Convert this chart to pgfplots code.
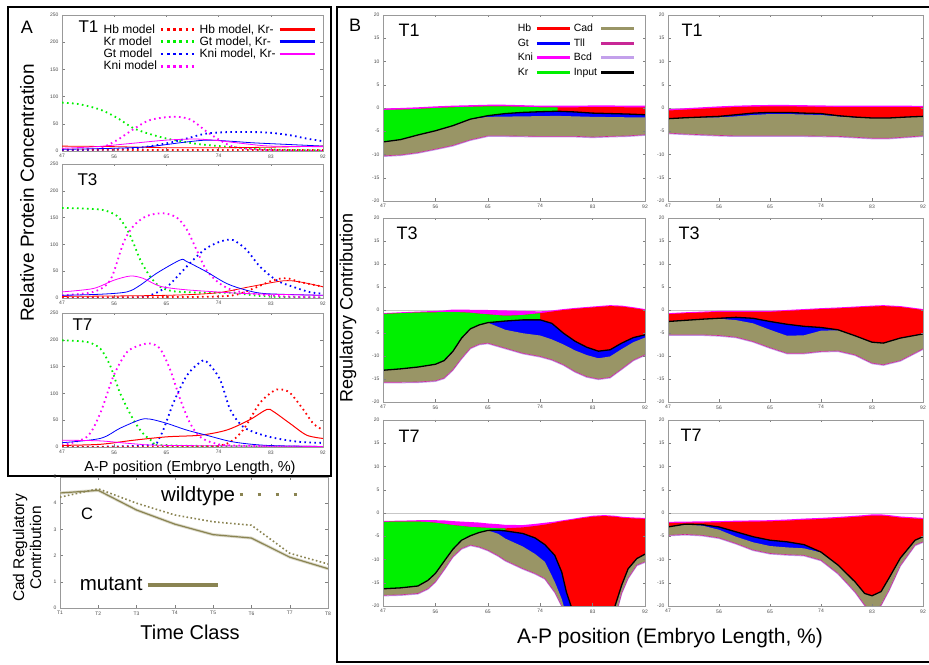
\documentclass[border=0pt]{standalone}
\usepackage{pgfplots}
\pgfplotsset{compat=1.18}
\usepackage{pgfplotstable}
\usepackage{fontspec}
\setmainfont{Liberation Sans}

\definecolor{cadc}{RGB}{153,149,102}
\definecolor{tllc}{RGB}{200,40,150}
\definecolor{bcdc}{RGB}{195,160,235}
\definecolor{grn}{RGB}{0,240,0}
\definecolor{olv}{RGB}{138,132,82}
\definecolor{mag}{RGB}{255,0,255}

\pgfplotsset{
  base/.style={scale only axis, anchor=south west, axis line style={black!40, line width=0.5pt},
    tick style={black!50, line width=0.4pt}, major tick length=2.5pt, tick align=inside,
    /pgf/number format/assume math mode=true,
    tick label style={font=\fontsize{5}{6}\selectfont, text=black!70}, clip=true},
  pA/.style={base, width=261pt, xmin=47, xmax=92, ymin=0, ymax=250,
    xtick={47,56,65,74,83,92}, ytick={0,50,...,250}},
  pB/.style={base, axis on top, width=262pt, xmin=47, xmax=92, ymin=-20, ymax=20,
    xtick={47,56,65,74,83,92}, ytick={-20,-15,...,20}},
  dotl/.style={line width=1.8pt, dash pattern=on 1.6pt off 3.4pt, smooth},
  soll/.style={line width=0.8pt, smooth},
  legd/.style={line width=2.6pt, dash pattern=on 2.6pt off 3.6pt},
  legs/.style={line width=2.8pt},
  legA/.style={legend image code/.code={\draw[##1] (0pt,0pt) -- (35pt,0pt);}},
  legB/.style={legend image code/.code={\draw[##1] (0pt,0pt) -- (33pt,0pt);}},
  legCw/.style={legend image code/.code={\draw[##1] (0pt,0pt) -- (57pt,0pt);}},
  legCm/.style={legend image code/.code={\draw[##1] (0pt,0pt) -- (70pt,0pt);}},
}

% ---------------- Panel B data ----------------
\pgfplotstableread{
x top kb blk bb ob
47 -0.10 -0.45 -7.30 -7.30 -10.30
50 0.00 -0.35 -6.80 -6.80 -10.10
53 0.15 -0.20 -5.80 -5.80 -9.60
56 0.35 0.00 -4.90 -4.90 -8.85
59 0.50 0.15 -3.80 -3.80 -8.05
62 0.60 0.25 -2.40 -2.40 -6.85
65 0.70 0.35 -1.65 -1.90 -6.00
68 0.70 0.35 -1.20 -1.85 -6.00
71 0.60 0.25 -0.95 -1.80 -6.05
74 0.50 0.15 -0.80 -1.75 -6.10
77 0.50 0.15 -0.70 -1.70 -6.10
80 0.50 0.15 -0.85 -1.80 -6.10
83 0.55 0.20 -1.10 -1.90 -6.25
86 0.55 0.20 -1.20 -1.95 -6.10
89 0.50 0.15 -1.30 -2.00 -6.00
92 0.50 0.15 -1.45 -2.00 -5.75
}\BLa
\pgfplotstableread{
x top kb blk bb ob
47 -0.25 -0.55 -2.30 -2.30 -5.40
50 -0.05 -0.35 -2.10 -2.10 -5.60
53 0.15 -0.15 -1.95 -2.00 -5.75
56 0.35 0.05 -1.80 -2.00 -5.90
59 0.50 0.20 -1.45 -1.80 -6.00
62 0.60 0.30 -1.10 -1.50 -6.00
65 0.65 0.35 -0.95 -1.30 -6.00
68 0.65 0.35 -0.95 -1.30 -6.00
71 0.60 0.30 -1.10 -1.40 -6.00
74 0.55 0.25 -1.20 -1.50 -6.05
77 0.50 0.20 -1.65 -1.80 -6.10
80 0.50 0.20 -1.95 -2.05 -6.30
83 0.50 0.20 -2.15 -2.20 -6.50
86 0.50 0.20 -2.15 -2.20 -6.50
89 0.50 0.20 -1.95 -2.00 -6.25
92 0.45 0.15 -1.80 -1.85 -6.00
}\BRa
\pgfplotstableread{
x top kb blk bb ob
47 -0.70 -0.85 -13.10 -13.10 -15.70
50 -0.50 -0.70 -12.80 -12.80 -15.70
53 -0.35 -0.55 -12.40 -12.40 -15.65
56 -0.20 -0.50 -11.80 -11.80 -15.40
57.5 -0.10 -0.45 -11.00 -11.00 -14.80
59 0.10 -0.45 -9.00 -9.00 -13.00
60.5 0.10 -0.50 -6.10 -6.10 -10.50
62 0.05 -0.60 -4.10 -4.10 -8.30
63.5 0.00 -0.80 -3.25 -3.25 -7.45
65 0.00 -0.95 -2.75 -2.75 -7.20
68 -0.10 -1.25 -2.40 -4.30 -8.30
71 -0.20 -1.10 -2.15 -5.05 -9.40
74 -0.30 -0.70 -2.15 -5.55 -10.10
76 -0.10 -0.35 -2.90 -6.40 -10.80
78 0.20 0.00 -5.05 -7.50 -11.90
80 0.45 0.25 -6.80 -8.80 -13.40
82 0.65 0.45 -8.10 -9.80 -14.50
84 0.85 0.65 -8.95 -10.50 -15.00
86 1.05 0.85 -8.65 -10.10 -14.65
88 0.95 0.75 -7.20 -8.50 -12.80
90 0.60 0.40 -6.00 -7.00 -10.90
92 0.20 0.00 -5.40 -6.00 -9.75
}\BLb
\pgfplotstableread{
x top kb blk bb ob
47 -0.70 -0.90 -2.50 -2.50 -5.40
50 -0.50 -0.70 -2.25 -2.25 -5.40
53 -0.35 -0.55 -2.00 -2.00 -5.40
56 -0.20 -0.40 -1.80 -1.90 -5.55
59 -0.20 -0.40 -1.60 -2.20 -5.90
62 -0.20 -0.40 -1.80 -2.90 -6.85
65 -0.20 -0.40 -2.50 -4.30 -8.20
68 0.00 -0.20 -3.10 -5.60 -9.40
71 0.20 0.00 -3.55 -5.50 -9.40
74 0.40 0.20 -3.80 -4.50 -9.00
77 0.55 0.35 -4.30 -4.40 -8.90
80 0.75 0.55 -5.60 -5.60 -9.75
83 0.95 0.75 -7.00 -7.00 -11.55
85 1.05 0.85 -7.20 -7.20 -11.90
88 0.85 0.65 -6.10 -6.10 -11.00
92 0.20 0.00 -5.20 -5.20 -8.45
}\BRb
\pgfplotstableread{
x top kb blk bb ob
47 -1.70 -1.90 -16.30 -16.30 -17.70
50 -1.65 -1.85 -16.10 -16.10 -17.60
53 -1.55 -1.85 -15.70 -15.70 -17.30
54.7 -1.55 -1.95 -14.50 -14.50 -16.30
56 -1.55 -2.10 -13.00 -13.00 -14.80
57.6 -1.60 -2.35 -10.20 -10.20 -12.00
59 -1.75 -2.60 -7.80 -7.80 -9.40
60.5 -1.85 -2.80 -5.85 -5.85 -7.65
62 -1.95 -3.00 -4.90 -4.90 -6.90
63.5 -2.05 -3.10 -4.20 -4.20 -7.30
65 -2.25 -3.20 -3.75 -3.75 -8.00
66.8 -2.40 -3.30 -3.70 -4.50 -9.20
68 -2.55 -3.30 -3.85 -5.50 -10.20
71 -2.60 -3.10 -4.40 -7.20 -11.95
73.1 -2.35 -2.80 -5.35 -8.80 -13.00
74.8 -2.10 -2.50 -6.80 -10.50 -14.10
76.5 -1.85 -2.10 -9.10 -14.80 -17.00
77.7 -1.60 -1.80 -12.70 -18.50 -20.00
78.5 -1.45 -1.65 -17.00 -22.00 -23.00
79.3 -1.30 -1.50 -20.00 -25.00 -26.00
81 -0.95 -1.15 -26.00 -30.00 -32.00
83 -0.60 -0.80 -30.00 -32.00 -35.00
85 -0.45 -0.65 -27.00 -27.00 -32.00
86.85 -0.60 -0.80 -20.00 -20.00 -22.50
88 -0.80 -1.00 -15.50 -15.50 -17.20
89.1 -0.90 -1.10 -12.00 -12.00 -14.00
90.6 -1.00 -1.20 -9.80 -9.80 -11.20
92 -1.05 -1.25 -8.85 -8.85 -10.50
}\BLc
\pgfplotstableread{
x top kb blk bb ob
47 -1.90 -2.15 -3.00 -3.00 -4.80
50 -1.85 -2.10 -2.40 -2.50 -4.60
53 -1.80 -2.05 -2.50 -2.70 -4.80
56 -1.75 -2.00 -3.00 -3.60 -5.35
59 -1.65 -1.90 -4.05 -5.10 -6.55
62 -1.60 -1.85 -5.10 -6.30 -7.95
65 -1.55 -1.80 -5.85 -7.10 -8.70
68 -1.40 -1.65 -6.20 -7.40 -8.95
71 -1.20 -1.45 -6.80 -7.60 -9.10
74 -1.05 -1.30 -8.40 -8.50 -10.15
77 -0.85 -1.10 -11.20 -11.20 -13.00
80 -0.60 -0.85 -14.80 -14.80 -16.95
81.7 -0.45 -0.70 -17.30 -17.30 -19.80
83 -0.30 -0.55 -17.80 -17.80 -21.30
84.6 -0.30 -0.55 -16.90 -16.90 -19.80
86 -0.45 -0.70 -14.00 -14.00 -16.60
88 -0.75 -1.00 -9.70 -9.70 -11.30
90.6 -0.95 -1.20 -5.85 -5.85 -6.90
92 -1.05 -1.30 -5.10 -5.10 -6.20
}\BRc

% fill from a curve down to the floor of the axis
\newcommand{\ffill}[4]{% #1 table, #2 column, #3 colour, #4 last x
  \addplot[fill=#3, draw=none, restrict x to domain=47:#4] table[x=x,y=#2] {#1} |- (axis cs:47,-48) -- cycle;
}
% #1 table, #2 green domain end (47 = no green)
\newcommand{\stackplot}[2]{%
  \addplot[black!22, line width=0.5pt] coordinates {(47,0) (92,0)};
  \ffill{#1}{top}{mag}{92}
  \ffill{#1}{kb}{red}{92}
  \ffill{#1}{kb}{grn}{#2}
  \ffill{#1}{blk}{blue}{92}
  \ffill{#1}{bb}{cadc}{92}
  \ffill{#1}{ob}{white}{92}
  \addplot[bcdc, line width=1.0pt, yshift=-0.6pt] table[x=x,y=ob] {#1};
  \addplot[tllc, line width=0.6pt] table[x=x,y=ob] {#1};
  \addplot[black, line width=1.3pt] table[x=x,y=blk] {#1};
}

\begin{document}
\begin{tikzpicture}[x=1pt,y=1pt]
\useasboundingbox (0,0) rectangle (929,664);
\fill[white] (0,0) rectangle (929,664);

% ================= Panel A =================
\begin{axis}[pA, height=136pt, at={(62pt,513pt)},
  legend columns=2, legend plot pos=right, legend cell align=left, legA,
  legend style={at={(0.155,0.935)}, anchor=north west, draw=none, fill=none,
    font=\fontsize{12}{12.5}\selectfont, inner sep=0pt, column sep=1.5pt, row sep=1.5pt,
    nodes={inner xsep=1pt, inner ysep=0.3pt}}]
\addlegendimage{red, legd}\addlegendentry{Hb model}
\addlegendimage{red, legs}\addlegendentry{Hb model, Kr-}
\addlegendimage{grn, legd}\addlegendentry{Kr model}
\addlegendimage{blue, legs}\addlegendentry{Gt model, Kr-}
\addlegendimage{blue, legd}\addlegendentry{Gt model}
\addlegendimage{mag, legs}\addlegendentry{Kni model, Kr-}
\addlegendimage{mag, legd}\addlegendentry{Kni model}
\addplot[grn, dotl] coordinates {(47,89) (50,86) (53.6,76) (56.5,61) (59.3,42) (62.2,31) (65,23) (68,17) (71,12) (76.5,7) (82,3) (92,1)};
\addplot[mag, dotl] coordinates {(47,1) (51,2) (53.6,5) (56.5,20) (59.3,40) (62.2,57) (66.2,63) (69.1,58) (71.9,36) (74.2,20) (76.5,8) (80,3) (85,1) (92,0)};
\addplot[blue, dotl] coordinates {(47,2) (53,2) (59,4) (65,14) (68.5,23) (71.9,32) (76.5,35) (82.3,34) (86.3,29) (89.1,23) (92,18)};
\addplot[red, dotl] coordinates {(47,3) (60,2) (75,2) (92,2)};
\addplot[red, soll] coordinates {(47,9) (56,8) (65,6) (74,6) (83,7) (92,9)};
\addplot[blue, soll] coordinates {(47,3) (56,5) (62,8) (68,16) (72,20) (76,18) (80,15) (86,12) (92,9)};
\addplot[mag, soll] coordinates {(47,5) (53,8) (59,14) (65,20) (70,22) (74,19) (78,14) (83,9) (92,8)};
\end{axis}

\begin{axis}[pA, height=134pt, at={(62pt,366pt)}]
\addplot[grn, dotl] coordinates {(47,168) (53.6,165) (56.5,153) (58.2,128) (59.3,103) (60.5,71) (62.2,40) (63.9,21) (66.2,12.6) (70.8,10) (76.5,9.5) (80,5) (84,2) (92,1)};
\addplot[mag, dotl] coordinates {(47,5) (52.4,11.4) (55.3,33) (57.6,103) (59.3,134) (61.6,153) (64.5,158) (66.8,150) (68.5,128) (70.2,90) (71.9,52) (74.2,27) (76.5,14.5) (80,8) (85.1,3) (92,1)};
\addplot[blue, dotl] coordinates {(47,0) (59.3,1) (62.2,5) (65.1,21) (67.4,46) (69.6,71) (71.9,93) (74.5,106) (76.5,108) (78.8,90) (81.1,59) (84,33) (86.8,21) (89.7,11) (92,8)};
\addplot[red, dotl] coordinates {(47,1) (70,2) (76.5,5) (80,17.7) (83.4,33) (85.7,37) (88,30) (92,21)};
\addplot[red, soll] coordinates {(47,3) (65,5) (73.6,9.5) (79.4,21) (85.1,32) (88,30) (92,21)};
\addplot[blue, soll] coordinates {(47,5) (53.6,7) (58.2,11.4) (60.5,24) (63.3,46) (67.4,71) (68.5,68) (71.9,49) (75.4,27) (78.8,14.5) (82.3,8) (92,5)};
\addplot[mag, soll] coordinates {(47,11.4) (52.4,17.7) (55.9,33) (58.8,41) (61,36.6) (63.9,22) (67.9,15.8) (73.6,11.4) (79.4,8) (92,5)};
\end{axis}

\begin{axis}[pA, height=134pt, at={(62pt,217pt)}]
\addplot[grn, dotl] coordinates {(47,199) (51.3,196) (53.6,183.5) (55.3,152) (57,101) (59.3,51) (61,25) (62.8,9.5) (65.1,3) (92,0)};
\addplot[mag, dotl] coordinates {(47,3) (51.3,19) (53.6,63) (55.9,133) (58.2,177) (60.5,190) (62.2,193) (63.9,183.5) (65.6,145.6) (67.4,88.6) (69.1,44) (70.8,19) (73.1,7.6) (76.5,3) (92,0)};
\addplot[blue, dotl] coordinates {(47,0) (61.6,3) (63.9,19) (66.2,82) (68.5,133) (70.8,158) (71.9,159.5) (74.2,127) (76,70) (78.2,38) (81.1,24) (84,16) (88,9.5) (92,7.6)};
\addplot[red, dotl] coordinates {(47,0) (70.8,1) (75.4,6) (78.2,31.6) (81.1,82) (83.4,104) (84.6,107.6) (86.3,101) (88.6,70) (90.3,44) (92,31.6)};
\addplot[red, soll, line width=1pt] coordinates {(47,3) (53.6,5) (59.3,12.6) (65.1,19) (70.8,22) (75.4,31.6) (79.4,51) (82.3,70) (83.4,66.5) (86.3,44) (89.2,22) (92,16)};
\addplot[blue, soll] coordinates {(47,8) (53.6,16) (57,35) (60.5,51) (62.2,52) (65.1,44) (68.5,31.6) (71.9,22) (76.5,9.5) (82.3,3) (92,1)};
\addplot[mag, soll] coordinates {(47,12.6) (53.6,11.4) (59.3,6) (65.1,3) (92,1)};
\end{axis}

\draw[line width=1.8pt] (8,188) rectangle (331,657);
\node[font=\fontsize{18}{18}\selectfont] at (27,637) {A};
\node[anchor=west, font=\fontsize{17}{17}\selectfont] at (75,637) {T1};
\node[anchor=west, font=\fontsize{17}{17}\selectfont] at (74,484) {T3};
\node[anchor=west, font=\fontsize{17}{17}\selectfont] at (69,339) {T7};
\node[rotate=90, font=\fontsize{19}{19}\selectfont] at (27,471) {Relative Protein Concentration};
\node[font=\fontsize{14.5}{15}\selectfont] at (190,196) {A-P position (Embryo Length, \%)};

% ================= Panel C =================
\begin{axis}[base, width=268pt, height=131pt, at={(60pt,56pt)},
  xmin=1, xmax=8, ymin=0, ymax=5, xtick={1,...,8},
  xticklabels={T1,T2,T3,T4,T5,T6,T7,T8}, ytick={0,...,5},
  legend plot pos=right, legCw,
  legend style={at={(0.365,0.945)}, anchor=north west, draw=none, fill=none,
    font=\fontsize{20.5}{21}\selectfont, inner sep=0pt, nodes={inner xsep=3pt}}]
\addlegendimage{olv, line width=3pt, dash pattern=on 3pt off 15pt}\addlegendentry{wildtype}
\addplot[olv!30, line width=3pt] coordinates {(1,4.39) (2,4.49) (3,3.74) (4,3.2) (5,2.8) (6,2.67) (7,1.94) (8,1.5)};
\addplot[olv, line width=1.2pt] coordinates {(1,4.39) (2,4.49) (3,3.74) (4,3.2) (5,2.8) (6,2.67) (7,1.94) (8,1.5)};
\addplot[olv, line width=1.6pt, dash pattern=on 1.6pt off 2.4pt] coordinates {(1,4.23) (2,4.55) (3,4.0) (4,3.55) (5,3.29) (6,3.16) (7,2.09) (8,1.68)};
\end{axis}
\begin{axis}[scale only axis, anchor=south west, width=268pt, height=131pt, at={(60pt,56pt)},
  hide axis, xmin=0, xmax=1, ymin=0, ymax=1,
  legend plot pos=right, legCm,
  legend style={at={(0.062,0.176)}, anchor=west, draw=none, fill=none,
    font=\fontsize{20.5}{21}\selectfont, inner sep=0pt, nodes={inner xsep=3pt}}]
\addlegendimage{olv, line width=4.5pt}\addlegendentry{mutant}
\addplot[white, opacity=0] coordinates {(0.4,0.4) (0.6,0.6)};
\end{axis}
\node[font=\fontsize{16.5}{17}\selectfont] at (87,150) {C};
\node[font=\fontsize{20}{20}\selectfont] at (190,32) {Time Class};
\node[rotate=90, align=center, font=\fontsize{15.5}{17}\selectfont] at (27,116) {Cad Regulatory\\Contribution};

% ================= Panel B =================
\begin{axis}[pB, height=186pt, at={(383pt,463pt)},
  legend columns=2, legend plot pos=right, legend cell align=left, legB,
  legend style={at={(0.51,0.955)}, anchor=north west, draw=none, fill=none,
    font=\fontsize{10.5}{11}\selectfont, inner sep=0pt, column sep=1.5pt, row sep=4.5pt,
    nodes={inner xsep=1pt, inner ysep=0.5pt}}]
\addlegendimage{red, line width=2.8pt}\addlegendentry{Hb}
\addlegendimage{cadc, line width=2.8pt}\addlegendentry{Cad}
\addlegendimage{blue, line width=2.8pt}\addlegendentry{Gt}
\addlegendimage{tllc, line width=2.8pt}\addlegendentry{Tll}
\addlegendimage{mag, line width=2.8pt}\addlegendentry{Kni}
\addlegendimage{bcdc, line width=2.8pt}\addlegendentry{Bcd}
\addlegendimage{grn, line width=2.8pt}\addlegendentry{Kr}
\addlegendimage{black, line width=2.8pt}\addlegendentry{Input}
\stackplot{\BLa}{78}
\end{axis}
\begin{axis}[pB, width=255pt, height=186pt, at={(668pt,463pt)}]
\stackplot{\BRa}{47}
\end{axis}
\begin{axis}[pB, height=184pt, at={(383pt,262pt)}]
\stackplot{\BLb}{74}
\end{axis}
\begin{axis}[pB, width=255pt, height=184pt, at={(668pt,262pt)}]
\stackplot{\BRb}{47}
\end{axis}
\begin{axis}[pB, height=186pt, at={(383pt,58pt)}]
\stackplot{\BLc}{68}
\end{axis}
\begin{axis}[pB, width=255pt, height=186pt, at={(668pt,58pt)}]
\stackplot{\BRc}{47}
\end{axis}

\draw[line width=1.5pt] (337,2) rectangle (945,657);
\node[font=\fontsize{18}{18}\selectfont] at (355,639) {B};
\foreach \xx/\yy/\tt in {395/634/T1, 678/634/T1, 393/431/T3, 675/431/T3, 395/228/T7, 677/229/T7}
  \node[anchor=west, font=\fontsize{18}{18}\selectfont] at (\xx,\yy) {\tt};
\node[rotate=90, font=\fontsize{18}{18}\selectfont] at (348,356) {Regulatory Contribution};
\node[font=\fontsize{21}{21}\selectfont] at (670,26) {A-P position (Embryo Length, \%)};
\end{tikzpicture}
\end{document}
